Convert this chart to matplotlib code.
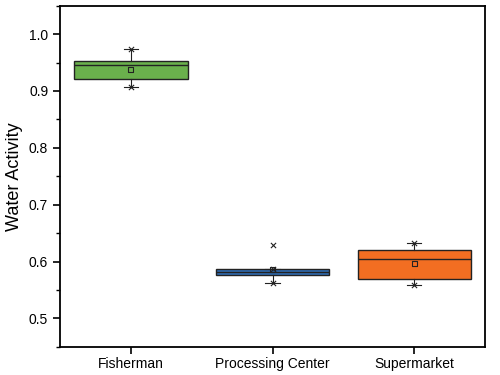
import matplotlib
matplotlib.use("Agg")
import matplotlib.pyplot as plt
from matplotlib.ticker import MultipleLocator

plt.rcParams['font.family'] = ['Liberation Sans', 'DejaVu Sans']

# values
groups = ['Fisherman', 'Processing Center', 'Supermarket']
q1 = [0.921, 0.577, 0.570]
med = [0.946, 0.582, 0.605]
q3 = [0.953, 0.587, 0.621]
means = [0.938, 0.586, 0.597]
whislo = [0.907, 0.563, 0.558]
whishi = [0.973, 0.587, 0.633]
outliers = [[], [0.630], []]
colors = ['#6ab04c', '#2f6cb3', '#f26e22']

stats = []
for i, g in enumerate(groups):
    stats.append(dict(label=g, q1=q1[i], med=med[i], q3=q3[i], mean=means[i],
                      whislo=whislo[i], whishi=whishi[i], fliers=outliers[i]))

fig = plt.figure(figsize=(5, 3.75), dpi=100)
ax = fig.add_axes([0.12, 0.075, 0.85, 0.91])

pos = [1, 2, 3]
bp = ax.bxp(stats, positions=pos, widths=0.8, patch_artist=True, showmeans=False,
            showfliers=False,
            boxprops=dict(edgecolor='#222222', linewidth=1.0),
            medianprops=dict(color='#222222', linewidth=1.0),
            whiskerprops=dict(color='#222222', linewidth=0.8),
            capprops=dict(color='#222222', linewidth=0.8), capwidths=0.1)
for patch, c in zip(bp['boxes'], colors):
    patch.set_facecolor(c)

# min/max crosses, mean squares, outliers
ax.scatter(pos, whislo, marker='x', s=14, color='#222222', linewidths=0.8, zorder=4)
ax.scatter(pos, whishi, marker='x', s=14, color='#222222', linewidths=0.8, zorder=4)
ax.scatter(pos, means, marker='s', s=12, facecolor='none', edgecolor='#222222',
           linewidths=0.8, zorder=4)
for p, o in zip(pos, outliers):
    if o:
        ax.scatter([p] * len(o), o, marker='x', s=14, color='#222222',
                   linewidths=0.8, zorder=4)

ax.set_xlim(0.5, 3.5)
ax.set_ylim(0.45, 1.05)
ax.yaxis.set_major_locator(MultipleLocator(0.1))
ax.yaxis.set_minor_locator(MultipleLocator(0.05))
ax.set_xticks(pos)
ax.set_xticklabels(groups)
ax.tick_params(axis='both', which='major', direction='out', length=5, width=1.2,
               labelsize=10, top=False, right=False)
ax.tick_params(axis='x', pad=2)
ax.tick_params(axis='y', which='minor', direction='out', length=3, width=1.0)
ax.set_ylabel('Water Activity', fontsize=13)
for s in ax.spines.values():
    s.set_linewidth(1.3)

fig.savefig('out.png', dpi=100)
